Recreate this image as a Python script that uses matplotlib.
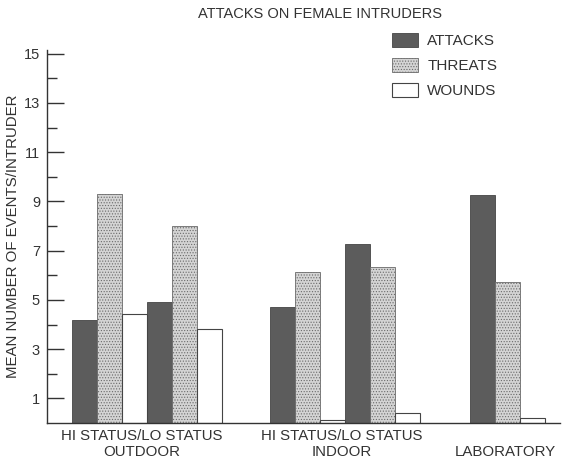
import numpy as np
import matplotlib.pyplot as plt

plt.rcParams['font.family'] = ['Liberation Sans', 'DejaVu Sans']
plt.rcParams['hatch.linewidth'] = 0.5

groups = ['HI STATUS/LO STATUS\nOUTDOOR', 'HI STATUS/LO STATUS\nINDOOR', '\nLABORATORY']
# one entry per subgroup: outdoor hi, outdoor lo, indoor hi, indoor lo, laboratory
attacks = [4.2, 4.9, 4.73, 7.26, 9.28]
threats = [9.3, 8.0, 6.14, 6.34, 5.74]
wounds = [4.43, 3.8, 0.12, 0.39, 0.19]

# layout: left edge of each triplet, in bar widths
starts = np.array([1.0, 4.0, 8.9, 11.9, 16.9])
label_x = [3.8, 11.76, 18.3]

ink = '#333333'
fig = plt.figure(figsize=(5.76, 4.61), dpi=100)
ax = fig.add_axes([47 / 576, 38 / 461, 513 / 576, 373 / 461])

w = 1.0
ax.bar(starts + 0.5, attacks, w, color='#5c5c5c', edgecolor='#444444', lw=0.6, label='ATTACKS')
ax.bar(starts + 1.5, threats, w, color='#d4d4d4', edgecolor='#6a6a6a', lw=0.6,
       hatch='......', label='THREATS')
ax.bar(starts + 2.5, wounds, w, color='white', edgecolor='#444444', lw=0.8, label='WOUNDS')

ax.set_xlim(0, 20.5)
ax.set_ylim(0, 15.15)
ax.yaxis.set_major_locator(plt.FixedLocator(np.arange(1, 16, 2)))
ax.yaxis.set_minor_locator(plt.FixedLocator(np.arange(2, 15, 2)))
ax.tick_params(axis='y', which='major', direction='in', length=12, width=1, colors=ink,
               labelsize=10.5, pad=5)
ax.tick_params(axis='y', which='minor', direction='in', length=7, width=1, color=ink)
ax.set_xticks(label_x)
ax.set_xticklabels(groups, fontsize=10.8, color=ink, linespacing=1.2)
ax.tick_params(axis='x', length=0, pad=4)

for s in ['top', 'right']:
    ax.spines[s].set_visible(False)
for s in ['left', 'bottom']:
    ax.spines[s].set_color(ink)
    ax.spines[s].set_linewidth(1)

ax.set_ylabel('MEAN NUMBER OF EVENTS/INTRUDER', fontsize=10.8, color=ink, labelpad=3)
fig.text(320 / 576, 1 - 14 / 461, 'ATTACKS ON FEMALE INTRUDERS', ha='center', va='center',
         fontsize=10.5, color=ink)

leg = ax.legend(loc='upper left', bbox_to_anchor=(392 / 576, 1 - 33 / 461),
                bbox_transform=fig.transFigure, frameon=False, fontsize=11,
                handlelength=1.7, handleheight=1.0, handletextpad=0.6,
                labelspacing=0.65, borderpad=0, borderaxespad=0)
for t in leg.get_texts():
    t.set_color(ink)

fig.savefig('out.png', dpi=100, facecolor='white')
